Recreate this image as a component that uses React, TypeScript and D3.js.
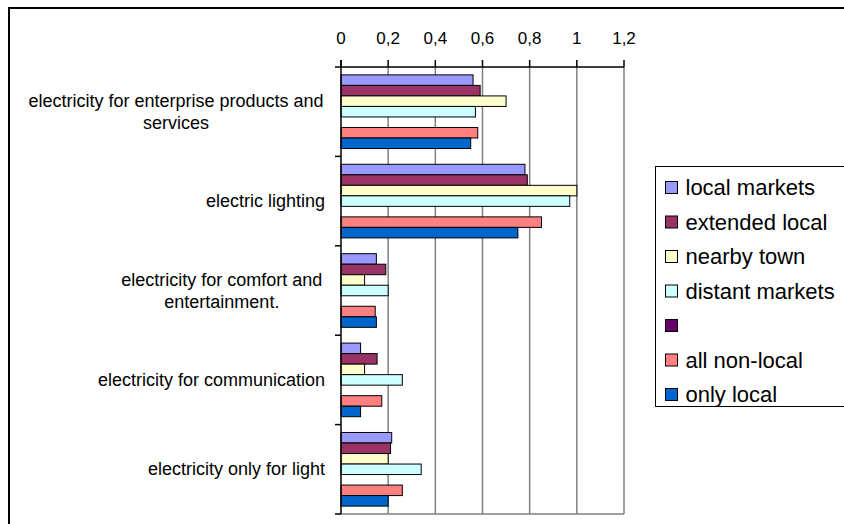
import React from "react";
import * as d3 from "d3";

// Categories (top to bottom) and series values
const categories: string[][] = [
  ["electricity for enterprise products and", "services"],
  ["electric lighting"],
  ["electricity for comfort and", "entertainment."],
  ["electricity for communication"],
  ["electricity only for light"],
];

const seriesNames: string[] = [
  "local markets",
  "extended local",
  "nearby town",
  "distant markets",
  "",
  "all non-local",
  "only local",
];

const seriesColors: string[] = [
  "#9999FF",
  "#993366",
  "#FFFFCC",
  "#CCFFFF",
  "#660066",
  "#FF8080",
  "#0066CC",
];

const localMarkets = [0.56, 0.78, 0.15, 0.083, 0.215];
const extendedLocal = [0.59, 0.79, 0.19, 0.153, 0.21];
const nearbyTown = [0.7, 1.0, 0.1, 0.1, 0.2];
const distantMarkets = [0.57, 0.97, 0.2, 0.26, 0.34];
const unnamedSeries: (number | null)[] = [null, null, null, null, null];
const allNonLocal = [0.58, 0.85, 0.145, 0.173, 0.26];
const onlyLocal = [0.55, 0.75, 0.15, 0.083, 0.2];

const seriesValues: (number | null)[][] = [
  localMarkets,
  extendedLocal,
  nearbyTown,
  distantMarkets,
  unnamedSeries,
  allNonLocal,
  onlyLocal,
];

const xTicks = [0, 0.2, 0.4, 0.6, 0.8, 1, 1.2];

const W = 844;
const H = 524;
const FONT = "'Liberation Sans', Arial, sans-serif";

export default function App() {
  const plot = { left: 341, right: 624, top: 67, bottom: 514 };

  const x = d3.scaleLinear().domain([0, 1.2]).range([plot.left, plot.right]);
  const yCat = d3
    .scaleBand<number>()
    .domain(d3.range(categories.length))
    .range([plot.top, plot.bottom])
    .paddingInner(0)
    .paddingOuter(0);
  const ySer = d3
    .scaleBand<number>()
    .domain(d3.range(seriesNames.length))
    .range([0, yCat.bandwidth()])
    .paddingInner(0)
    .paddingOuter(0.75);

  const fmt = (v: number) => String(v).replace(".", ",");
  const catEdges = d3.range(categories.length + 1).map((i) =>
    i < categories.length ? (yCat(i) as number) : plot.bottom
  );

  const lineH = 22;
  const labelRight = 325;

  // legend layout
  const legend = { x: 655.5, y: 166.5, h: 240, spacing: 34.5, first: 187.5 };

  return (
    <svg
      width={W}
      height={H}
      style={{ position: "absolute", left: 0, top: 0, background: "#fff" }}
      fontFamily={FONT}
    >
      {/* outer frame */}
      <rect x={9} y={8} width={W + 20} height={H + 20} fill="#fff" stroke="#000" strokeWidth={2} />

      {/* vertical gridlines */}
      {xTicks.slice(1).map((t) => (
        <line
          key={"g" + t}
          x1={x(t)}
          x2={x(t)}
          y1={plot.top}
          y2={plot.bottom}
          stroke="#808080"
          strokeWidth={1.5}
        />
      ))}
      <line x1={plot.left} x2={plot.right} y1={plot.bottom} y2={plot.bottom} stroke="#808080" strokeWidth={1.5} />

      {/* bars */}
      {seriesValues.map((vals, s) =>
        vals.map((v, c) =>
          v == null ? null : (
            <rect
              key={`b${s}-${c}`}
              x={x(0)}
              y={(yCat(c) as number) + (ySer(s) as number)}
              width={x(v) - x(0)}
              height={ySer.bandwidth()}
              fill={seriesColors[s]}
              stroke="#000"
              strokeWidth={1}
            />
          )
        )
      )}

      {/* value axis at top */}
      <line x1={plot.left} x2={plot.right} y1={plot.top} y2={plot.top} stroke="#000" strokeWidth={1.5} />
      {xTicks.map((t) => (
        <g key={"t" + t}>
          <line x1={x(t)} x2={x(t)} y1={plot.top - 7} y2={plot.top} stroke="#000" strokeWidth={1.5} />
          <text x={x(t)} y={44} textAnchor="middle" fontSize={17} fill="#000">
            {fmt(t)}
          </text>
        </g>
      ))}

      {/* category axis */}
      <line x1={plot.left} x2={plot.left} y1={plot.top - 7} y2={plot.bottom} stroke="#000" strokeWidth={1.5} />
      {catEdges.map((e, i) => (
        <line key={"c" + i} x1={plot.left - 6} x2={plot.left} y1={e} y2={e} stroke="#000" strokeWidth={1.5} />
      ))}

      {/* category labels: block right-aligned, lines centred within block */}
      {categories.map((lines, c) => {
        const cy = (yCat(c) as number) + yCat.bandwidth() / 2;
        const y0 = cy - ((lines.length - 1) * lineH) / 2 + 6;
        const longest = d3.max(lines, (l) => l.length) as number;
        const single = lines.length === 1;
        return (
          <text
            key={"l" + c}
            fontSize={18}
            fill="#000"
            textAnchor={single ? "end" : "middle"}
          >
            {lines.map((l, i) => (
              <tspan
                key={i}
                x={single ? labelRight : labelRight - longest * 3.82}
                y={y0 + i * lineH}
              >
                {l}
              </tspan>
            ))}
          </text>
        );
      })}

      {/* legend */}
      <rect x={legend.x} y={legend.y} width={W} height={legend.h} fill="#fff" stroke="#000" strokeWidth={1} />
      {seriesNames.map((name, i) => {
        const cy = legend.first + i * legend.spacing;
        return (
          <g key={"lg" + i}>
            <rect x={665.5} y={cy - 6} width={12} height={12} fill={seriesColors[i]} stroke="#000" strokeWidth={1} />
            <text x={685.5} y={cy + 7.5} fontSize={22} fill="#000">
              {name}
            </text>
          </g>
        );
      })}
    </svg>
  );
}
